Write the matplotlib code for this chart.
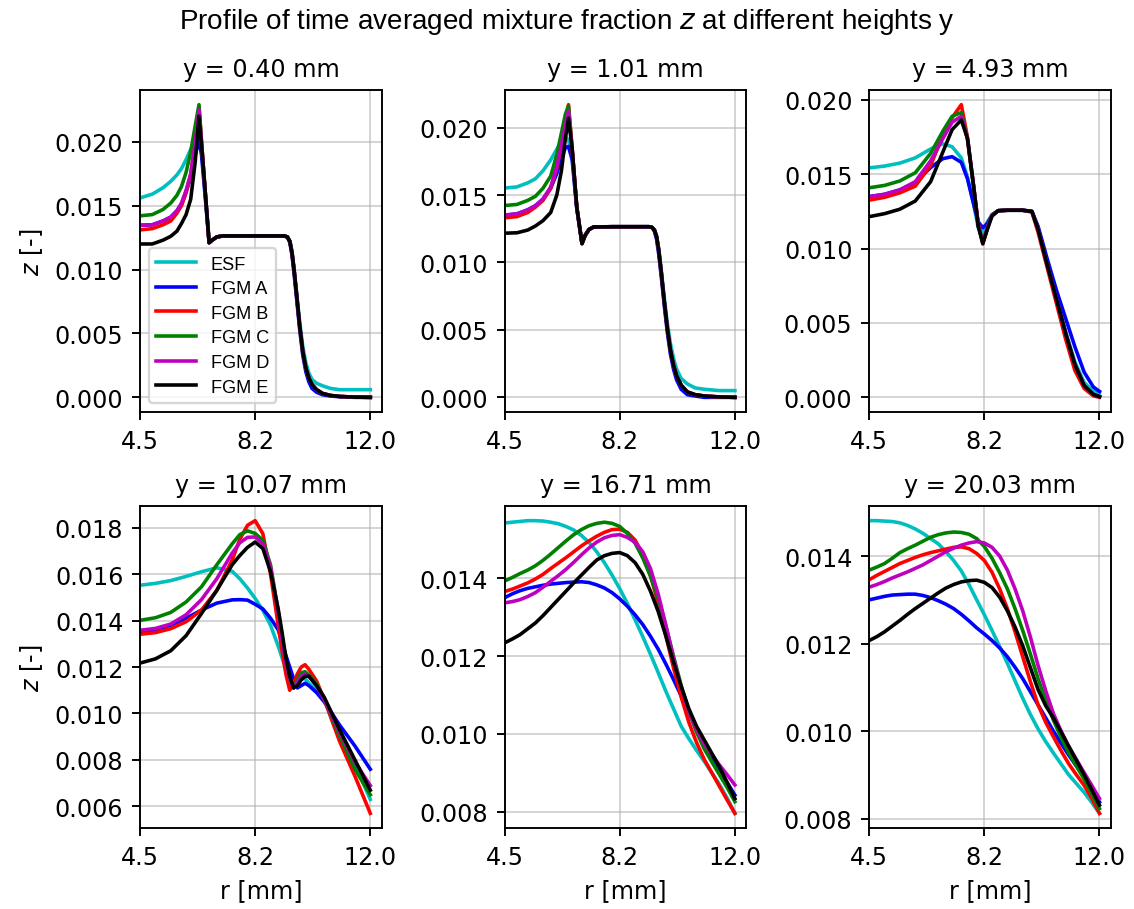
import numpy as np
import matplotlib
matplotlib.use("Agg")
import matplotlib.pyplot as plt
from matplotlib.ticker import FormatStrFormatter, MultipleLocator

plt.rcParams["font.family"] = ["DejaVu Sans"]
plt.rcParams["mathtext.fontset"] = "dejavusans"

# ---------------- data ----------------
SERIES = ["ESF", "FGM A", "FGM B", "FGM C", "FGM D", "FGM E"]
COLORS = ["c", "b", "r", "g", "m", "k"]
HEIGHTS = ["0.40", "1.01", "4.93", "10.07", "16.71", "20.03"]
XTICKS = [4.5, 8.25, 12.0]

# panel 1 : y = 0.40 mm
R1 = [4.5, 4.9, 5.25, 5.5, 5.7, 5.85, 6.0, 6.15, 6.3, 6.42, 6.5, 6.6, 6.75, 6.85, 7.0, 7.2, 8.0,
      9.2, 9.3, 9.38, 9.45, 9.52, 9.6, 9.7, 9.8, 9.9, 10.0, 10.1, 10.25, 10.45, 10.7, 11.0, 11.5, 12.0]
P1_MID = [0.0121, 0.0123, 0.01255, 0.01263, 0.01263]
P1_TAIL = [0.01263, 0.01255, 0.0122, 0.0113, 0.0099, 0.0080, 0.0056, 0.0036, 0.0023, 0.0015,
           0.0010, 0.0006, 0.0003, 0.00015, 0.00007, 0.00002, 0.0]
P1_ESF = ([0.0156, 0.0159, 0.0164, 0.0169, 0.0174, 0.0179, 0.0186, 0.0194, 0.0202, 0.0205,
           0.0195, 0.0166] + P1_MID +
          [0.01263, 0.01255, 0.0122, 0.0114, 0.0100, 0.0082, 0.0059, 0.0040, 0.0027, 0.0019,
           0.0014, 0.0011, 0.0009, 0.0007, 0.0006, 0.0006, 0.0006])
P1_A = ([0.01346, 0.0135, 0.0138, 0.0141, 0.0146, 0.0151, 0.0161, 0.0172, 0.0190, 0.0201,
         0.0190, 0.0163] + P1_MID +
        [0.01263, 0.01252, 0.0121, 0.0111, 0.0096, 0.0077, 0.0053, 0.0033, 0.0020, 0.0012,
         0.0007, 0.0004, 0.0002, 0.0001, 0.00005, 0.0, 0.0])
P1_B = ([0.0131, 0.0132, 0.0135, 0.0138, 0.0144, 0.0150, 0.0160, 0.0174, 0.0200, 0.0227,
         0.0200, 0.0168] + P1_MID + P1_TAIL)
P1_C = ([0.0142, 0.0143, 0.0147, 0.0152, 0.0158, 0.0165, 0.0176, 0.0192, 0.0213, 0.0229,
         0.0201, 0.0168] + P1_MID + P1_TAIL)
P1_D = ([0.01346, 0.0135, 0.0138, 0.0141, 0.0146, 0.0152, 0.0162, 0.0175, 0.0200, 0.0225,
         0.0200, 0.0168] + P1_MID + P1_TAIL)
P1_E = ([0.0120, 0.0120, 0.0123, 0.0126, 0.0130, 0.0136, 0.0143, 0.0155, 0.0185, 0.0220,
         0.0198, 0.0168] + P1_MID + P1_TAIL)

# panel 2 : y = 1.01 mm
R2 = [4.5, 4.9, 5.25, 5.5, 5.75, 6.0, 6.2, 6.35, 6.48, 6.58, 6.7, 6.85, 7.02, 7.12, 7.25, 7.4, 8.0,
      9.2, 9.3, 9.38, 9.45, 9.52, 9.6, 9.7, 9.8, 9.9, 10.0, 10.1, 10.25, 10.45, 10.7, 11.0, 11.5, 12.0]
P2_MID = [0.0114, 0.0120, 0.01245, 0.01263, 0.01265]
P2_TAIL = [0.01265, 0.0126, 0.0124, 0.0119, 0.0109, 0.0093, 0.0071, 0.0051, 0.0035, 0.0024,
           0.0016, 0.0009, 0.0004, 0.0002, 0.0001, 0.00003, 0.0]
P2_ESF = ([0.01552, 0.0156, 0.0159, 0.0162, 0.0168, 0.0176, 0.0184, 0.0190, 0.0193, 0.0191,
           0.0178, 0.0141] + P2_MID +
          [0.01265, 0.0126, 0.0124, 0.0120, 0.0110, 0.0095, 0.0074, 0.0055, 0.0040, 0.0029,
           0.0021, 0.0014, 0.0010, 0.0007, 0.0006, 0.0005, 0.0005])
P2_A = ([0.01351, 0.0136, 0.0139, 0.0142, 0.0147, 0.0155, 0.0166, 0.0177, 0.0185, 0.0186,
         0.0176, 0.0140] + P2_MID +
        [0.01265, 0.0126, 0.0123, 0.0117, 0.0106, 0.0090, 0.0068, 0.0048, 0.0032, 0.0021,
         0.0013, 0.0006, 0.0002, 0.0001, 0.0, 0.0, 0.0])
P2_B = ([0.01331, 0.0134, 0.0137, 0.0141, 0.0146, 0.0155, 0.0170, 0.0188, 0.0206, 0.0217,
         0.0184, 0.0141] + P2_MID + P2_TAIL)
P2_C = ([0.01422, 0.0143, 0.0146, 0.0149, 0.0155, 0.0164, 0.0180, 0.0196, 0.0210, 0.0216,
         0.0184, 0.0141] + P2_MID + P2_TAIL)
P2_D = ([0.01351, 0.0136, 0.0139, 0.0142, 0.0147, 0.0156, 0.0171, 0.0187, 0.0202, 0.0212,
         0.0184, 0.0141] + P2_MID + P2_TAIL)
P2_E = ([0.01217, 0.0122, 0.0124, 0.0127, 0.0131, 0.0137, 0.0150, 0.0168, 0.0192, 0.0207,
         0.0184, 0.0141] + P2_MID + P2_TAIL)

# panel 3 : y = 4.93 mm
R3 = [4.5, 5.0, 5.5, 6.0, 6.5, 6.9, 7.2, 7.5, 7.7, 7.9, 8.05, 8.2, 8.35, 8.5, 8.7, 9.0, 9.5,
      9.8, 10.0, 10.3, 10.6, 10.9, 11.2, 11.5, 11.8, 12.0]
P3_ESF = [0.01543, 0.01555, 0.01575, 0.01610, 0.01670, 0.01705, 0.01685, 0.01610, 0.01480, 0.01300,
          0.01140, 0.01100, 0.01180, 0.01230, 0.01255, 0.01258, 0.01258, 0.01250, 0.01140, 0.00900,
          0.00670, 0.00440, 0.00240, 0.00100, 0.00040, 0.00030]
P3_A = [0.01350, 0.01365, 0.01395, 0.01445, 0.01545, 0.01605, 0.01618, 0.01580, 0.01470, 0.01300,
        0.01180, 0.01140, 0.01170, 0.01220, 0.01255, 0.01258, 0.01258, 0.01250, 0.01150, 0.00930,
        0.00720, 0.00530, 0.00340, 0.00170, 0.00070, 0.00040]
P3_B = [0.01326, 0.01345, 0.01375, 0.01420, 0.01560, 0.01760, 0.01880, 0.01968, 0.01750, 0.01420,
        0.01170, 0.01030, 0.01140, 0.01225, 0.01255, 0.01258, 0.01258, 0.01245, 0.01110, 0.00870,
        0.00630, 0.00390, 0.00180, 0.00060, 0.00010, 0.00000]
P3_C = [0.01409, 0.01425, 0.01455, 0.01510, 0.01640, 0.01790, 0.01890, 0.01915, 0.01740, 0.01420,
        0.01160, 0.01040, 0.01140, 0.01225, 0.01255, 0.01258, 0.01258, 0.01250, 0.01130, 0.00890,
        0.00660, 0.00430, 0.00220, 0.00080, 0.00020, 0.00005]
P3_D = [0.01349, 0.01365, 0.01395, 0.01450, 0.01590, 0.01740, 0.01850, 0.01890, 0.01740, 0.01420,
        0.01160, 0.01040, 0.01140, 0.01225, 0.01255, 0.01258, 0.01258, 0.01250, 0.01130, 0.00890,
        0.00660, 0.00430, 0.00220, 0.00080, 0.00020, 0.00005]
P3_E = [0.01215, 0.01235, 0.01265, 0.01320, 0.01450, 0.01650, 0.01800, 0.01865, 0.01740, 0.01420,
        0.01150, 0.01035, 0.01130, 0.01220, 0.01255, 0.01258, 0.01258, 0.01250, 0.01130, 0.00890,
        0.00660, 0.00430, 0.00220, 0.00080, 0.00020, 0.00005]

# panel 4 : y = 10.07 mm
R4 = [4.5, 5.0, 5.5, 6.0, 6.5, 7.0, 7.5, 7.75, 8.0, 8.25, 8.5, 8.75, 9.0, 9.125, 9.25, 9.375,
      9.5, 9.625, 9.75, 9.875, 10.0, 10.25, 10.5, 11.0, 11.5, 12.0]
P4_ESF = [0.01552, 0.01560, 0.01572, 0.01590, 0.01610, 0.01627, 0.01612, 0.01580, 0.01540, 0.01495,
          0.01444, 0.01380, 0.01290, 0.01240, 0.01190, 0.01150, 0.01128, 0.01140, 0.01150, 0.01150,
          0.01130, 0.01100, 0.01060, 0.00920, 0.00780, 0.00630]
P4_A = [0.01351, 0.01360, 0.01380, 0.01410, 0.01445, 0.01475, 0.01489, 0.01490, 0.01488, 0.01470,
        0.01450, 0.01410, 0.01360, 0.01310, 0.01250, 0.01200, 0.01150, 0.01110, 0.01120, 0.01130,
        0.01120, 0.01090, 0.01050, 0.00950, 0.00860, 0.00760]
P4_B = [0.01341, 0.01348, 0.01365, 0.01395, 0.01445, 0.01530, 0.01660, 0.01750, 0.01810, 0.01830,
        0.01774, 0.01600, 0.01380, 0.01270, 0.01170, 0.01100, 0.01130, 0.01170, 0.01200, 0.01210,
        0.01190, 0.01140, 0.01060, 0.00880, 0.00730, 0.00570]
P4_C = [0.01401, 0.01412, 0.01435, 0.01480, 0.01545, 0.01640, 0.01730, 0.01770, 0.01786, 0.01775,
        0.01745, 0.01640, 0.01440, 0.01330, 0.01220, 0.01150, 0.01110, 0.01145, 0.01175, 0.01180,
        0.01165, 0.01130, 0.01060, 0.00905, 0.00760, 0.00650]
P4_D = [0.01358, 0.01366, 0.01385, 0.01425, 0.01490, 0.01580, 0.01690, 0.01735, 0.01758, 0.01760,
        0.01730, 0.01630, 0.01435, 0.01320, 0.01220, 0.01150, 0.01110, 0.01135, 0.01160, 0.01170,
        0.01160, 0.01120, 0.01060, 0.00920, 0.00790, 0.00690]
P4_E = [0.01217, 0.01235, 0.01270, 0.01335, 0.01430, 0.01530, 0.01640, 0.01680, 0.01715, 0.01738,
        0.01710, 0.01610, 0.01450, 0.01350, 0.01240, 0.01160, 0.01110, 0.01120, 0.01145, 0.01160,
        0.01160, 0.01120, 0.01070, 0.00930, 0.00800, 0.00670]

# panel 5 : y = 16.71 mm
R5 = [4.5, 4.75, 5.0, 5.25, 5.5, 5.75, 6.0, 6.25, 6.5, 6.75, 7.0, 7.25, 7.5, 7.75, 8.0, 8.25,
      8.5, 8.75, 9.0, 9.25, 9.5, 9.75, 10.0, 10.25, 10.5, 10.75, 11.0, 11.25, 11.5, 11.75, 12.0]
P5_ESF = [0.01542, 0.01544, 0.01546, 0.01548, 0.01548, 0.01547, 0.01544, 0.01540, 0.01533, 0.01524,
          0.01510, 0.01492, 0.01468, 0.01440, 0.01408, 0.01373, 0.01335, 0.01293, 0.01250, 0.01205,
          0.01158, 0.01110, 0.01065, 0.01020, 0.00988, 0.00958, 0.00930, 0.00900, 0.00870, 0.00835,
          0.00796]
P5_A = [0.01350, 0.01360, 0.01368, 0.01374, 0.01378, 0.01382, 0.01385, 0.01387, 0.01389, 0.01390,
        0.01391, 0.01389, 0.01383, 0.01375, 0.01363, 0.01347, 0.01328, 0.01306, 0.01281, 0.01251,
        0.01218, 0.01180, 0.01140, 0.01098, 0.01055, 0.01010, 0.00970, 0.00935, 0.00905, 0.00875,
        0.00843]
P5_B = [0.01366, 0.01372, 0.01380, 0.01388, 0.01398, 0.01410, 0.01425, 0.01439, 0.01453, 0.01468,
        0.01483, 0.01496, 0.01508, 0.01518, 0.01525, 0.01526, 0.01518, 0.01498, 0.01462, 0.01408,
        0.01335, 0.01253, 0.01170, 0.01095, 0.01030, 0.00978, 0.00935, 0.00900, 0.00865, 0.00830,
        0.00796]
P5_C = [0.01393, 0.01402, 0.01412, 0.01421, 0.01432, 0.01446, 0.01462, 0.01479, 0.01496, 0.01512,
        0.01525, 0.01535, 0.01541, 0.01544, 0.01541, 0.01533, 0.01515, 0.01490, 0.01452, 0.01405,
        0.01348, 0.01278, 0.01200, 0.01125, 0.01060, 0.01005, 0.00962, 0.00928, 0.00895, 0.00862,
        0.00826]
P5_D = [0.01337, 0.01340, 0.01345, 0.01353, 0.01363, 0.01377, 0.01392, 0.01407, 0.01423, 0.01441,
        0.01460, 0.01478, 0.01493, 0.01504, 0.01510, 0.01512, 0.01505, 0.01492, 0.01468, 0.01425,
        0.01360, 0.01280, 0.01195, 0.01120, 0.01060, 0.01012, 0.00975, 0.00947, 0.00920, 0.00895,
        0.00869]
P5_E = [0.01234, 0.01244, 0.01255, 0.01270, 0.01285, 0.01304, 0.01325, 0.01346, 0.01367, 0.01388,
        0.01408, 0.01428, 0.01447, 0.01458, 0.01464, 0.01466, 0.01458, 0.01440, 0.01410, 0.01367,
        0.01315, 0.01252, 0.01185, 0.01122, 0.01065, 0.01020, 0.00985, 0.00950, 0.00915, 0.00875,
        0.00834]

# panel 6 : y = 20.03 mm
R6 = [4.5, 4.75, 5.0, 5.25, 5.5, 5.75, 6.0, 6.25, 6.5, 6.75, 7.0, 7.25, 7.5, 7.75, 8.0, 8.25,
      8.5, 8.75, 9.0, 9.25, 9.5, 9.75, 10.0, 10.25, 10.5, 10.75, 11.0, 11.25, 11.5, 11.75, 12.0]
P6_ESF = [0.01481, 0.01481, 0.01480, 0.01479, 0.01476, 0.01470, 0.01462, 0.01452, 0.01440, 0.01428,
          0.01410, 0.01390, 0.01366, 0.01335, 0.01300, 0.01266, 0.01230, 0.01193, 0.01155, 0.01115,
          0.01075, 0.01038, 0.01005, 0.00976, 0.00950, 0.00925, 0.00900, 0.00880, 0.00860, 0.00837,
          0.00812]
P6_A = [0.01300, 0.01304, 0.01308, 0.01311, 0.01312, 0.01313, 0.01313, 0.01310, 0.01305, 0.01298,
        0.01290, 0.01280, 0.01267, 0.01252, 0.01236, 0.01222, 0.01207, 0.01190, 0.01170, 0.01146,
        0.01120, 0.01090, 0.01060, 0.01030, 0.01000, 0.00972, 0.00945, 0.00920, 0.00895, 0.00867,
        0.00838]
P6_B = [0.01346, 0.01356, 0.01365, 0.01374, 0.01383, 0.01390, 0.01397, 0.01403, 0.01408, 0.01412,
        0.01416, 0.01420, 0.01421, 0.01417, 0.01406, 0.01390, 0.01363, 0.01325, 0.01280, 0.01227,
        0.01170, 0.01113, 0.01060, 0.01020, 0.00987, 0.00955, 0.00925, 0.00900, 0.00876, 0.00846,
        0.00812]
P6_C = [0.01368, 0.01375, 0.01383, 0.01395, 0.01408, 0.01417, 0.01425, 0.01434, 0.01443, 0.01449,
        0.01453, 0.01455, 0.01454, 0.01450, 0.01440, 0.01422, 0.01395, 0.01362, 0.01325, 0.01280,
        0.01230, 0.01176, 0.01120, 0.01070, 0.01025, 0.00985, 0.00950, 0.00920, 0.00890, 0.00857,
        0.00823]
P6_D = [0.01329, 0.01335, 0.01342, 0.01350, 0.01357, 0.01364, 0.01372, 0.01380, 0.01390, 0.01400,
        0.01410, 0.01418, 0.01425, 0.01430, 0.01433, 0.01430, 0.01420, 0.01400, 0.01368, 0.01325,
        0.01275, 0.01215, 0.01150, 0.01092, 0.01040, 0.01000, 0.00965, 0.00935, 0.00905, 0.00876,
        0.00846]
P6_E = [0.01207, 0.01216, 0.01227, 0.01240, 0.01253, 0.01267, 0.01280, 0.01292, 0.01304, 0.01316,
        0.01327, 0.01335, 0.01341, 0.01344, 0.01345, 0.01340, 0.01328, 0.01306, 0.01275, 0.01238,
        0.01195, 0.01145, 0.01095, 0.01058, 0.01030, 0.00998, 0.00965, 0.00933, 0.00900, 0.00866,
        0.00831]

PANELS = [
    (R1, [P1_ESF, P1_A, P1_B, P1_C, P1_D, P1_E]),
    (R2, [P2_ESF, P2_A, P2_B, P2_C, P2_D, P2_E]),
    (R3, [P3_ESF, P3_A, P3_B, P3_C, P3_D, P3_E]),
    (R4, [P4_ESF, P4_A, P4_B, P4_C, P4_D, P4_E]),
    (R5, [P5_ESF, P5_A, P5_B, P5_C, P5_D, P5_E]),
    (R6, [P6_ESF, P6_A, P6_B, P6_C, P6_D, P6_E]),
]
YSTEP = [0.005, 0.005, 0.005, 0.002, 0.002, 0.002]

# ---------------- figure ----------------
DPI = 172
fig, axes = plt.subplots(2, 3, figsize=(1134 / DPI, 910 / DPI), dpi=DPI)
fig.subplots_adjust(left=0.1235, right=0.9797, top=0.900, bottom=0.089,
                    wspace=0.508, hspace=0.292)

for i, (ax, (r, series)) in enumerate(zip(axes.flat, PANELS)):
    for name, col, z in zip(SERIES, COLORS, series):
        ax.plot(r, z, color=col, lw=1.5, label=name)
    ax.set_title(f"y = {HEIGHTS[i]} mm", fontsize=10)
    ax.set_xlim(4.5, 12.375)
    ax.set_xticks(XTICKS)
    ax.xaxis.set_major_formatter(FormatStrFormatter("%.1f"))
    ax.yaxis.set_major_locator(MultipleLocator(YSTEP[i]))
    ax.yaxis.set_major_formatter(FormatStrFormatter("%.3f"))
    ax.grid(True, color="#b0b0b0", alpha=0.55, lw=0.8)
    if i % 3 == 0:
        ax.set_ylabel("$z$ [-]")
    if i >= 3:
        ax.set_xlabel("r [mm]")

axes[0, 0].legend(loc="lower left", prop={"family": "Liberation Sans", "size": 7.6},
                  handlelength=2.2, labelspacing=0.42)

fig.suptitle("Profile of time averaged mixture fraction $z$ at different heights y",
             fontname="Liberation Sans", fontsize=11.7, y=0.992)

fig.savefig("out.png", dpi=DPI)
